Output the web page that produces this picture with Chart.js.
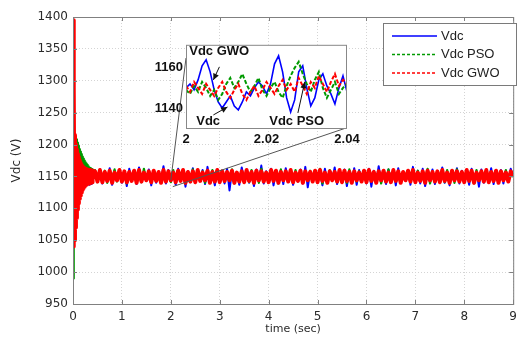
<!DOCTYPE html>
<html>
<head>
<meta charset="utf-8">
<script src="https://cdn.jsdelivr.net/npm/chart.js@4"></script>
<style>
  body { margin: 0; background: #fff; }
  #wrap { position: relative; width: 523px; height: 345px; }
  #main { position: absolute; left: 0; top: 0; }
  #zoom { position: absolute; left: 139px; top: 34px; }
</style>
</head>
<body>
<div id="wrap">
  <canvas id="main" width="523" height="345"></canvas>
  <canvas id="zoom" width="230" height="116"></canvas>
</div>
<script>
// series names, as in the legend
const seriesNames = ["Vdc", "Vdc PSO", "Vdc GWO"];

// tick labels
const timeTicks = [0, 1, 2, 3, 4, 5, 6, 7, 8, 9];
const voltTicks = [950, 1000, 1050, 1100, 1150, 1200, 1250, 1300, 1350, 1400];
const zoomTimeTicks = [2, 2.02, 2.04];
const zoomVoltTicks = [1140, 1160];

// start-up transient, sampled every 10 ms from t = 0 to 0.40 s
const startupStep = 0.01;
const startupVdc = [
  1150, 1132, 1168, 1134, 1166, 1135, 1167, 1133, 1165, 1136,
  1164, 1134, 1166, 1137, 1163, 1135, 1165, 1136, 1162, 1138,
  1164, 1136, 1161, 1139, 1163, 1137, 1160, 1138, 1162, 1140,
  1161, 1139, 1163, 1137, 1160, 1141, 1162, 1138, 1161, 1140,
  1159
];
const startupPso = [
  990, 1150, 1040, 1205, 1075, 1212, 1095, 1208, 1110, 1203,
  1118, 1198, 1124, 1193, 1129, 1189, 1132, 1185, 1134, 1181,
  1136, 1178, 1137, 1175, 1138, 1172, 1139, 1170, 1140, 1168,
  1140, 1166, 1141, 1164, 1141, 1163, 1142, 1162, 1142, 1161,
  1143
];
const startupGwo = [
  1395, 1040, 1290, 1050, 1215, 1070, 1200, 1085, 1192, 1098,
  1185, 1108, 1180, 1115, 1175, 1120, 1171, 1125, 1168, 1129,
  1166, 1132, 1164, 1134, 1163, 1136, 1162, 1137, 1161, 1138,
  1161, 1139, 1160, 1139, 1160, 1140, 1160, 1140, 1159, 1141,
  1159
];

// steady run, sampled every 50 ms from t = 0.45 to 9 s
const runStart = 0.45;
const runStep = 0.05;
const runVdc = [
  1158, 1142, 1161, 1139, 1156, 1144, 1163, 1137, 1159, 1143,
  1160, 1140, 1157, 1135, 1162, 1145, 1158, 1138, 1164, 1141,
  1155, 1143, 1161, 1136, 1159, 1140, 1157, 1144, 1166, 1139,
  1160, 1142, 1156, 1137, 1162, 1143, 1159, 1134, 1158, 1141,
  1163, 1140, 1157, 1145, 1160, 1138, 1165, 1142, 1156, 1136,
  1161, 1143, 1158, 1139, 1162, 1128, 1159, 1141, 1157, 1137,
  1164, 1144, 1160, 1140, 1156, 1135, 1161, 1142, 1167, 1139,
  1158, 1143, 1162, 1136, 1157, 1141, 1160, 1138, 1163, 1144,
  1159, 1137, 1156, 1142, 1161, 1139, 1165, 1133, 1158, 1143,
  1160, 1140, 1157, 1136, 1162, 1141, 1159, 1144, 1164, 1138,
  1156, 1142, 1161, 1135, 1158, 1140, 1163, 1137, 1160, 1143,
  1157, 1139, 1162, 1134, 1159, 1141, 1166, 1142, 1156, 1138,
  1161, 1144, 1158, 1136, 1163, 1140, 1157, 1143, 1160, 1137,
  1165, 1141, 1159, 1139, 1162, 1135, 1156, 1142, 1161, 1138,
  1158, 1144, 1164, 1140, 1157, 1136, 1160, 1143, 1163, 1139,
  1159, 1141, 1156, 1137, 1162, 1142, 1158, 1134, 1161, 1140,
  1157, 1143, 1163, 1138, 1159, 1141, 1160, 1139, 1158, 1144,
  1162, 1150
];
const runPso = [
  1160, 1141, 1157, 1144, 1159, 1140, 1155, 1146, 1161, 1142,
  1156, 1145, 1158, 1139, 1154, 1143, 1160, 1146, 1157, 1141,
  1162, 1144, 1155, 1140, 1159, 1147, 1156, 1142, 1158, 1145,
  1153, 1141, 1160, 1143, 1157, 1146, 1159, 1139, 1155, 1144,
  1161, 1142, 1156, 1145, 1158, 1140, 1154, 1147, 1160, 1143,
  1157, 1141, 1159, 1144, 1155, 1146, 1161, 1139, 1156, 1143,
  1158, 1145, 1153, 1141, 1160, 1144, 1157, 1140, 1162, 1146,
  1155, 1142, 1159, 1145, 1156, 1139, 1161, 1143, 1154, 1147,
  1158, 1141, 1160, 1144, 1155, 1140, 1157, 1146, 1159, 1142,
  1156, 1145, 1162, 1139, 1154, 1143, 1160, 1146, 1157, 1141,
  1159, 1144, 1155, 1140, 1161, 1147, 1156, 1142, 1158, 1145,
  1153, 1141, 1160, 1143, 1157, 1146, 1159, 1139, 1155, 1144,
  1161, 1142, 1156, 1145, 1158, 1140, 1154, 1147, 1160, 1143,
  1157, 1141, 1159, 1144, 1155, 1146, 1162, 1139, 1156, 1143,
  1158, 1145, 1154, 1141, 1160, 1144, 1157, 1140, 1161, 1146,
  1155, 1142, 1159, 1145, 1156, 1139, 1160, 1143, 1154, 1147,
  1158, 1141, 1157, 1144, 1159, 1140, 1156, 1146, 1160, 1142,
  1157, 1149
];
const runGwo = [
  1158, 1142, 1160, 1141, 1157, 1143, 1159, 1140, 1156, 1144,
  1160, 1142, 1158, 1141, 1157, 1143, 1159, 1140, 1160, 1142,
  1156, 1144, 1158, 1141, 1159, 1143, 1157, 1140, 1160, 1142,
  1158, 1144, 1156, 1141, 1159, 1143, 1160, 1140, 1157, 1142,
  1158, 1141, 1160, 1143, 1156, 1144, 1159, 1140, 1157, 1142,
  1160, 1141, 1158, 1143, 1157, 1144, 1159, 1140, 1156, 1142,
  1158, 1141, 1160, 1143, 1157, 1140, 1159, 1144, 1158, 1142,
  1156, 1141, 1160, 1143, 1159, 1140, 1157, 1144, 1158, 1142,
  1160, 1141, 1156, 1143, 1159, 1140, 1158, 1144, 1157, 1142,
  1159, 1141, 1160, 1143, 1156, 1140, 1158, 1144, 1157, 1142,
  1160, 1141, 1159, 1143, 1157, 1140, 1158, 1144, 1156, 1142,
  1159, 1141, 1160, 1143, 1157, 1140, 1158, 1144, 1159, 1142,
  1156, 1141, 1160, 1143, 1158, 1140, 1157, 1144, 1159, 1142,
  1160, 1141, 1156, 1143, 1158, 1140, 1159, 1144, 1157, 1142,
  1158, 1141, 1160, 1143, 1156, 1140, 1159, 1144, 1158, 1142,
  1157, 1141, 1160, 1143, 1159, 1140, 1156, 1144, 1158, 1142,
  1160, 1141, 1157, 1143, 1159, 1140, 1158, 1144, 1156, 1142,
  1158, 1150
];

// zoomed window, every 1 ms from t = 2.000 to 2.040 s
const zoomStart = 2;
const zoomStep = 0.001;
const zoomVdc = [
  1150, 1152, 1149, 1154, 1161, 1164, 1158, 1149, 1143, 1140,
  1143, 1146, 1141, 1139, 1143, 1148, 1146, 1150, 1153, 1151,
  1147, 1152, 1162, 1166, 1158, 1145, 1138, 1144, 1158, 1161,
  1150, 1141, 1145, 1154, 1157, 1151, 1147, 1142, 1150, 1156,
  1148
];
const zoomPso = [
  1149, 1147, 1151, 1148, 1153, 1150, 1146, 1149, 1144, 1147,
  1152, 1155, 1150, 1153, 1157, 1152, 1148, 1151, 1155, 1149,
  1146, 1150, 1153, 1148, 1145, 1151, 1156, 1160, 1163, 1157,
  1152, 1148, 1154, 1158, 1150, 1145, 1149, 1153, 1147, 1150,
  1152
];
const zoomGwo = [
  1151, 1148, 1153, 1150, 1147, 1152, 1149, 1146, 1150, 1153,
  1148, 1145, 1149, 1152, 1147, 1144, 1148, 1151, 1146, 1149,
  1153, 1150, 1147, 1151, 1154, 1149, 1152, 1148, 1155, 1151,
  1147, 1153, 1150, 1156, 1152, 1148, 1153, 1157, 1151, 1154,
  1152
];

// annotation labels inside the zoom box: [text, textX, textY, arrowFromX, arrowFromY, arrowToX, arrowToY]
const zoomNotes = [
  ["Vdc GWO", 2.0008, 1168, 2.0083, 1160.5, 2.0068, 1154],
  ["Vdc", 2.0055, 1133.5, 2.0068, 1136.5, 2.0103, 1140.5],
  ["Vdc PSO", 2.0275, 1133.5, 2.0278, 1137.5, 2.0295, 1153]
];

const colors = ["#0000ff", "#009a00", "#ff0000"];

function toPoints(start, step, values) {
  return values.map((v, i) => ({ x: +(start + i * step).toFixed(4), y: v }));
}

const mainSeries = [
  toPoints(0, startupStep, startupVdc).concat(toPoints(runStart, runStep, runVdc)),
  toPoints(0, startupStep, startupPso).concat(toPoints(runStart, runStep, runPso)),
  toPoints(0, startupStep, startupGwo).concat(toPoints(runStart, runStep, runGwo))
];
const zoomSeries = [
  toPoints(zoomStart, zoomStep, zoomVdc),
  toPoints(zoomStart, zoomStep, zoomPso),
  toPoints(zoomStart, zoomStep, zoomGwo)
];

const tickFont = { family: "DejaVu Sans", size: 12 };
const plain = v => String(+(+v).toFixed(2));

// box round the axes with short inward ticks, MATLAB style
const framePlugin = {
  id: "frame",
  afterDraw(chart) {
    const { ctx, chartArea: a, scales } = chart;
    ctx.save();
    ctx.strokeStyle = "#808080";
    ctx.lineWidth = 1;
    ctx.strokeRect(a.left + 0.5, a.top + 0.5, a.width, a.height);
    ctx.beginPath();
    timeTicks.forEach(t => {
      const x = Math.round(scales.x.getPixelForValue(t)) + 0.5;
      ctx.moveTo(x, a.bottom); ctx.lineTo(x, a.bottom - 4);
      ctx.moveTo(x, a.top); ctx.lineTo(x, a.top + 4);
    });
    voltTicks.forEach(v => {
      const y = Math.round(scales.y.getPixelForValue(v)) + 0.5;
      ctx.moveTo(a.left, y); ctx.lineTo(a.left + 4, y);
      ctx.moveTo(a.right, y); ctx.lineTo(a.right - 4, y);
    });
    ctx.stroke();

    // lines from the zoomed spot to the inset box
    const x0 = scales.x.getPixelForValue(2);
    const x1 = scales.x.getPixelForValue(2.04);
    ctx.strokeStyle = "#555";
    ctx.beginPath();
    ctx.moveTo(x0, scales.y.getPixelForValue(1144));
    ctx.lineTo(186, 58);
    ctx.moveTo(x1, scales.y.getPixelForValue(1134));
    ctx.lineTo(346, 128);
    ctx.stroke();

    // legend
    const lx = 383, ly = 23, lw = 133, lh = 62;
    ctx.fillStyle = "#fff";
    ctx.fillRect(lx, ly, lw, lh);
    ctx.strokeStyle = "#7a7a7a";
    ctx.strokeRect(lx + 0.5, ly + 0.5, lw, lh);
    ctx.font = "13px 'Liberation Sans', Arial, sans-serif";
    ctx.textBaseline = "middle";
    seriesNames.forEach((name, i) => {
      const y = ly + 13 + i * 18.5;
      ctx.strokeStyle = colors[i];
      ctx.lineWidth = 1.3;
      ctx.setLineDash(i === 0 ? [] : [3, 2]);
      ctx.beginPath();
      ctx.moveTo(lx + 9, y); ctx.lineTo(lx + 54, y);
      ctx.stroke();
      ctx.setLineDash([]);
      ctx.fillStyle = "#222";
      ctx.fillText(name, lx + 58, y);
    });
    ctx.restore();
  }
};

new Chart(document.getElementById("main"), {
  type: "line",
  data: {
    datasets: seriesNames.map((name, i) => ({
      label: name,
      data: mainSeries[i],
      borderColor: colors[i],
      borderWidth: [2, 2.2, 4][i],
      borderJoinStyle: "round",
      pointRadius: 0,
      tension: 0,
      order: 2 - i
    }))
  },
  options: {
    responsive: false,
    animation: false,
    events: [],
    layout: { padding: { top: 17, right: 0, left: 6, bottom: 5 } },
    plugins: { legend: { display: false }, tooltip: { enabled: false } },
    scales: {
      x: {
        type: "linear",
        min: 0,
        max: 9,
        afterBuildTicks: s => { s.ticks = timeTicks.map(v => ({ value: v })); },
        afterFit: s => { s.height = 36; },
        ticks: { color: "#2a2a2a", font: tickFont, padding: 6, maxRotation: 0, callback: plain },
        grid: { color: "#d4d4d4", drawTicks: false },
        border: { display: false, dash: [1, 2] },
        title: { display: true, text: "time (sec)", color: "#2a2a2a", font: { family: "DejaVu Sans", size: 11 }, padding: { top: 0 } }
      },
      y: {
        min: 950,
        max: 1400,
        afterBuildTicks: s => { s.ticks = voltTicks.map(v => ({ value: v })); },
        afterFit: s => { s.width = 67; },
        ticks: { color: "#2a2a2a", font: tickFont, padding: 5, callback: plain },
        grid: { color: "#d4d4d4", drawTicks: false },
        border: { display: false, dash: [1, 2] },
        title: { display: true, text: "Vdc (V)", color: "#2a2a2a", font: { family: "DejaVu Sans", size: 12 }, padding: { bottom: 2 } }
      }
    }
  },
  plugins: [framePlugin]
});

// inset: white box, border and the arrow labels
const insetPlugin = {
  id: "inset",
  beforeDraw(chart) {
    const { ctx, chartArea: a } = chart;
    ctx.save();
    ctx.fillStyle = "#fff";
    ctx.fillRect(a.left, a.top, a.width, a.height);
    ctx.restore();
  },
  afterDraw(chart) {
    const { ctx, chartArea: a, scales } = chart;
    ctx.save();
    ctx.strokeStyle = "#888";
    ctx.lineWidth = 1;
    ctx.strokeRect(a.left + 0.5, a.top + 0.5, a.width - 1, a.height);
    ctx.font = "bold 13px 'Liberation Sans', Arial, sans-serif";
    ctx.textBaseline = "middle";
    ctx.fillStyle = "#111";
    ctx.strokeStyle = "#111";
    zoomNotes.forEach(([text, tx, ty, fx, fy, px, py], i) => {
      ctx.textAlign = i === 0 ? "left" : "center";
      ctx.fillText(text, scales.x.getPixelForValue(tx), scales.y.getPixelForValue(ty));
      const x0 = scales.x.getPixelForValue(fx), y0 = scales.y.getPixelForValue(fy);
      const x1 = scales.x.getPixelForValue(px), y1 = scales.y.getPixelForValue(py);
      ctx.beginPath();
      ctx.moveTo(x0, y0); ctx.lineTo(x1, y1);
      ctx.stroke();
      const ang = Math.atan2(y1 - y0, x1 - x0);
      ctx.beginPath();
      ctx.moveTo(x1, y1);
      ctx.lineTo(x1 - 7 * Math.cos(ang - 0.45), y1 - 7 * Math.sin(ang - 0.45));
      ctx.lineTo(x1 - 7 * Math.cos(ang + 0.45), y1 - 7 * Math.sin(ang + 0.45));
      ctx.closePath();
      ctx.fill();
    });
    ctx.restore();
  }
};

const boldTicks = { family: "Liberation Sans", size: 13, weight: "bold" };

new Chart(document.getElementById("zoom"), {
  type: "line",
  data: {
    datasets: seriesNames.map((name, i) => ({
      label: name,
      data: zoomSeries[i],
      borderColor: colors[i],
      borderWidth: i === 0 ? 1.6 : 2,
      borderDash: i === 0 ? [] : [4, 2],
      pointRadius: 0,
      tension: 0,
      order: 2 - i
    }))
  },
  options: {
    responsive: false,
    animation: false,
    events: [],
    layout: { padding: { top: 5, right: 22, left: 0, bottom: 0 } },
    plugins: { legend: { display: false }, tooltip: { enabled: false } },
    scales: {
      x: {
        type: "linear",
        min: 2,
        max: 2.04,
        afterBuildTicks: s => { s.ticks = zoomTimeTicks.map(v => ({ value: v })); },
        afterFit: s => { s.height = 22; },
        ticks: { color: "#111", font: boldTicks, padding: 4, maxRotation: 0, callback: plain },
        grid: { display: false, drawTicks: false },
        border: { display: false }
      },
      y: {
        min: 1130,
        max: 1171.5,
        afterBuildTicks: s => { s.ticks = zoomVoltTicks.map(v => ({ value: v })); },
        afterFit: s => { s.width = 47; },
        ticks: { color: "#111", font: boldTicks, padding: 3, callback: plain },
        grid: { display: false, drawTicks: false },
        border: { display: false }
      }
    }
  },
  plugins: [insetPlugin]
});
</script>
</body>
</html>
